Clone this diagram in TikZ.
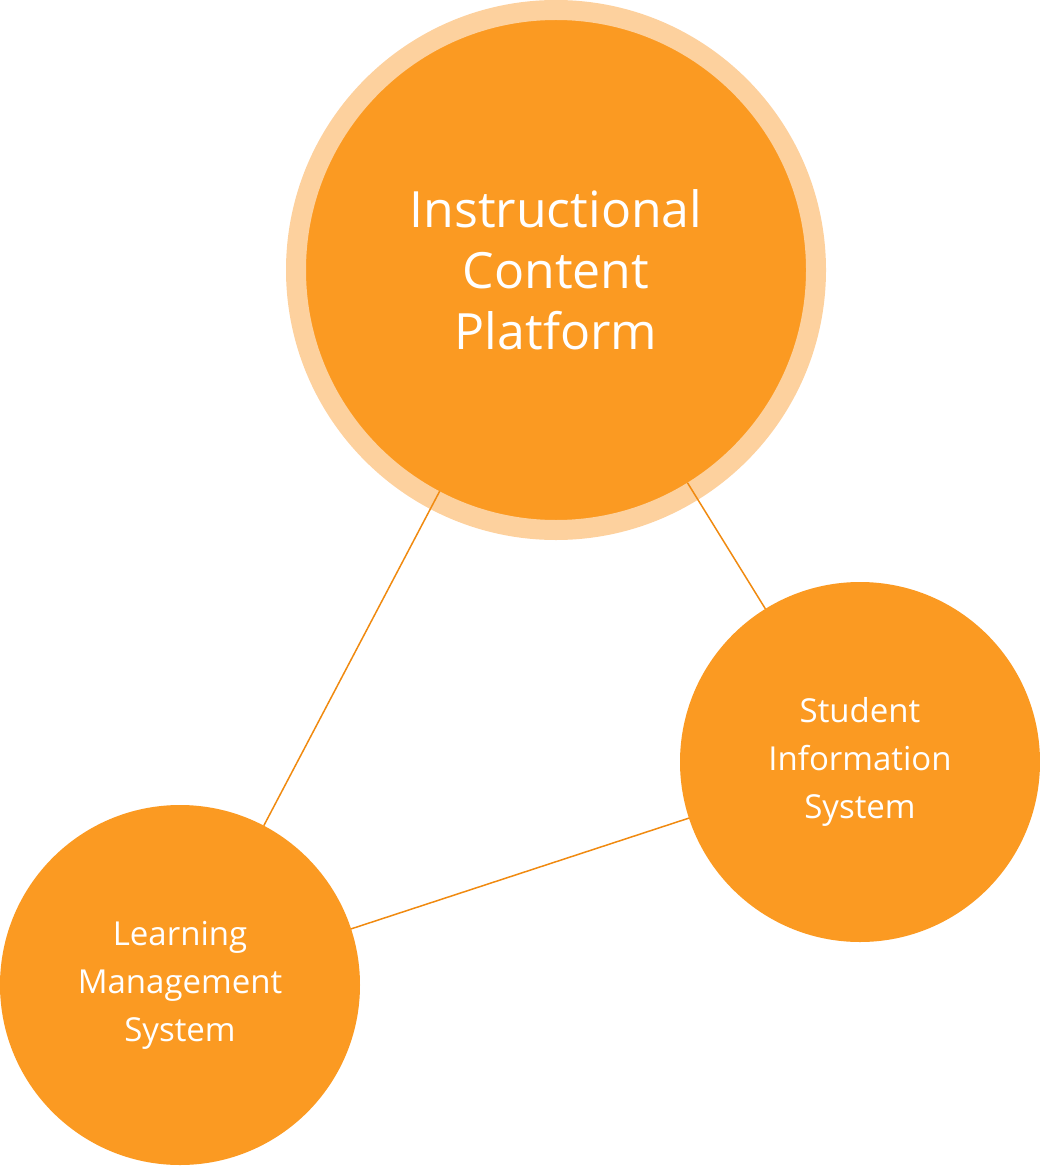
\documentclass[tikz,border=0pt]{standalone}
\usepackage{fontspec}
\setmainfont{Open Sans}
\definecolor{sysorange}{HTML}{FB9A22}
\definecolor{ringorange}{HTML}{FDD19E}
\definecolor{linkorange}{HTML}{F08A10}
\begin{document}
\begin{tikzpicture}[x=1pt,y=-1pt]
\tikzset{hub/.style={circle, fill=sysorange, draw=ringorange, line width=20pt, minimum size=520pt, inner sep=0pt, outer sep=0pt, text=white, align=center, font=\fontsize{50}{61}\selectfont},
  sat/.style={circle, fill=sysorange, minimum size=360pt, inner sep=0pt, outer sep=0pt, text=white, align=center, font=\fontsize{33}{48}\selectfont},
  link/.style={draw=linkorange, line width=1.5pt}}
\useasboundingbox (0,0) rectangle (1040,1166);
\node[hub] (icp) at (556,270) {Instructional\\Content\\Platform};
\node[sat] (sis) at (860,762) {Student\\Information\\System};
\node[sat] (lms) at (180,985) {Learning\\Management\\System};
\draw[link, shorten <=-10pt] (icp) -- (lms);
\draw[link, shorten <=-10pt] (icp) -- (sis);
\draw[link] (lms) -- (sis);
\end{tikzpicture}
\end{document}
